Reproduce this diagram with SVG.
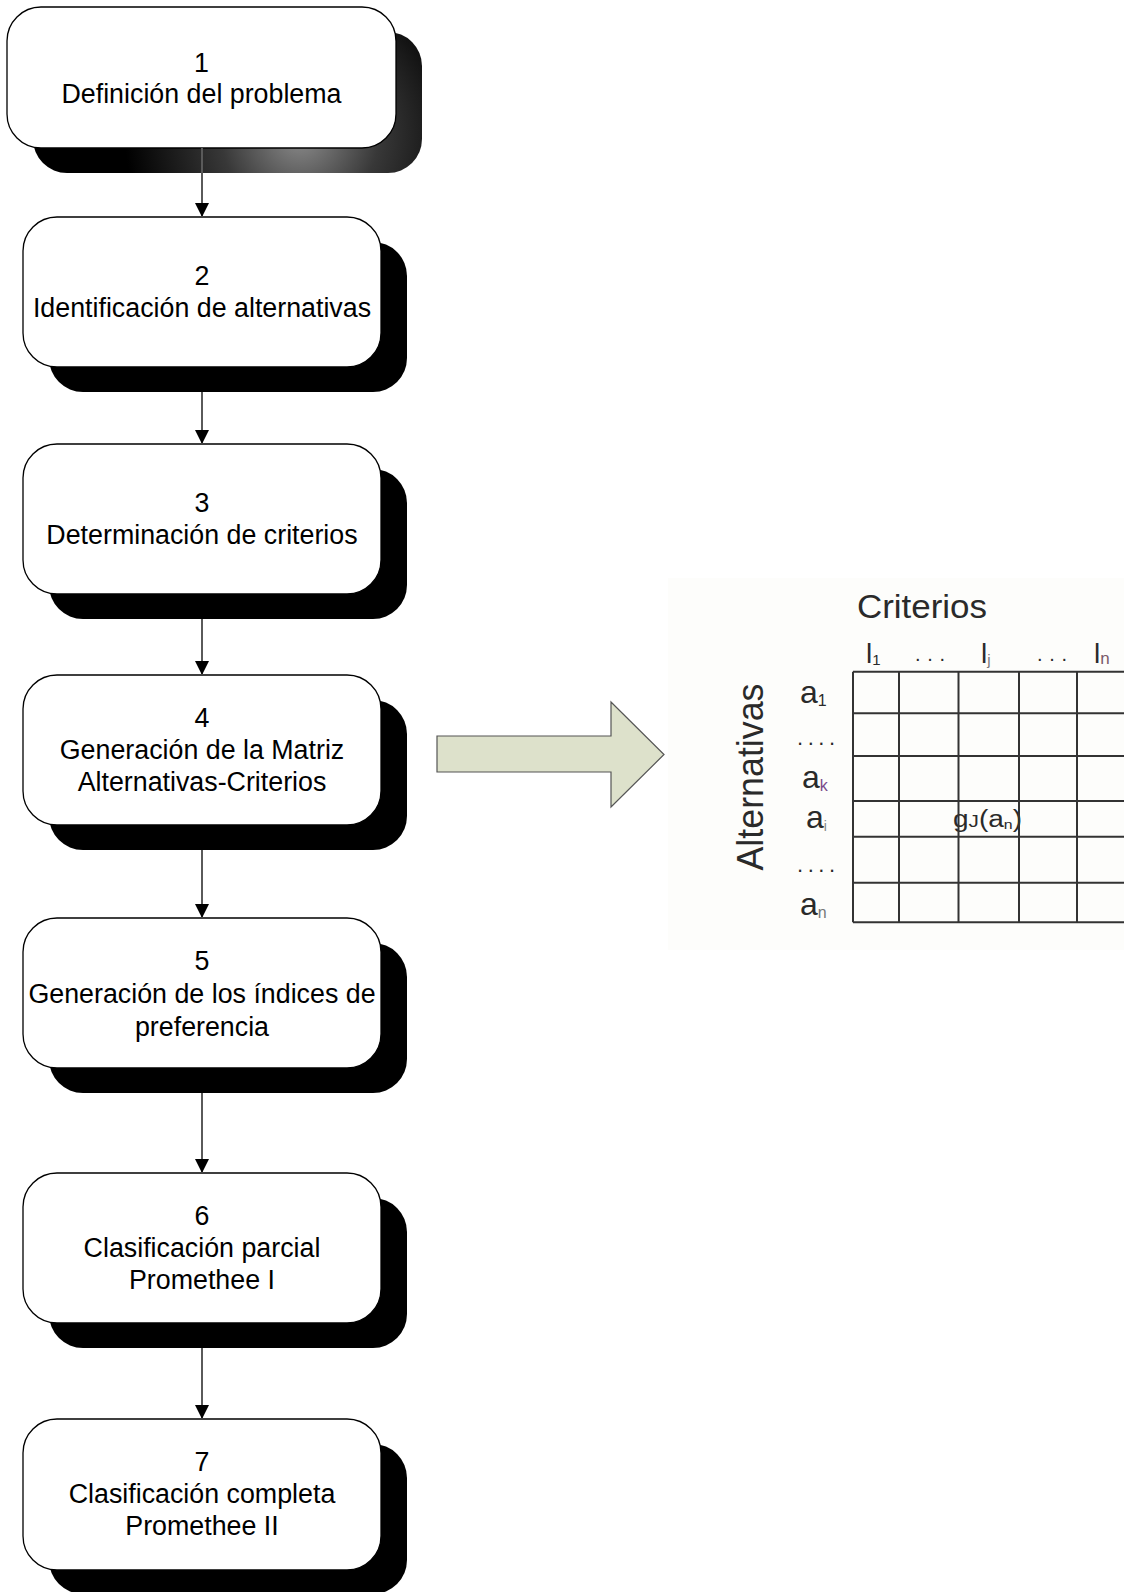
<svg xmlns="http://www.w3.org/2000/svg" width="1124" height="1592" viewBox="0 0 1124 1592">
  <style>
    .box { fill: #ffffff; stroke: #000000; stroke-width: 1.3; }
    .shadow { fill: #000000; }
    .lbl { font-family: "Liberation Sans", Arial, sans-serif; font-size: 26.8px; fill: #000000; text-anchor: middle; }
    .conn { stroke: #5a5a5a; stroke-width: 2; fill: none; }
    .grid { stroke: #333333; stroke-width: 2; fill: none; }
    .mt { font-family: "Liberation Sans", Arial, sans-serif; fill: #2a2a2a; }
  </style>
  <defs>
    <marker id="ah" markerWidth="14" markerHeight="14" refX="14" refY="7" orient="auto" markerUnits="userSpaceOnUse">
      <path d="M0,0 L14,7 L0,14 Z" fill="#000000"/>
    </marker>
    <radialGradient id="sh1" gradientUnits="userSpaceOnUse" cx="300" cy="135" r="175">
      <stop offset="0" stop-color="#8c8c8c"/>
      <stop offset="0.45" stop-color="#383838"/>
      <stop offset="1" stop-color="#000000"/>
    </radialGradient>
  </defs>

  <rect x="0" y="0" width="1124" height="1592" fill="#ffffff"/>

  <g id="node1">
    <rect x="33" y="32" width="389" height="141" rx="34" fill="url(#sh1)"/>
    <rect class="box" x="7" y="7" width="389" height="141" rx="34"/>
    <text class="lbl" x="201.5" y="72">1</text>
    <text class="lbl" x="201.5" y="103">Definición del problema</text>
  </g>

  <g id="node2">
    <rect class="shadow" x="49" y="242" width="358" height="150" rx="34"/>
    <rect class="box" x="23" y="217" width="358" height="150" rx="34"/>
    <text class="lbl" x="202" y="285">2</text>
    <text class="lbl" x="202" y="317">Identificación de alternativas</text>
  </g>

  <g id="node3">
    <rect class="shadow" x="49" y="469" width="358" height="150" rx="34"/>
    <rect class="box" x="23" y="444" width="358" height="150" rx="34"/>
    <text class="lbl" x="202" y="512">3</text>
    <text class="lbl" x="202" y="544">Determinación de criterios</text>
  </g>

  <g id="node4">
    <rect class="shadow" x="49" y="700" width="358" height="150" rx="34"/>
    <rect class="box" x="23" y="675" width="358" height="150" rx="34"/>
    <text class="lbl" x="202" y="727">4</text>
    <text class="lbl" x="202" y="759">Generación de la Matriz</text>
    <text class="lbl" x="202" y="791">Alternativas-Criterios</text>
  </g>

  <g id="node5">
    <rect class="shadow" x="49" y="943" width="358" height="150" rx="34"/>
    <rect class="box" x="23" y="918" width="358" height="150" rx="34"/>
    <text class="lbl" x="202" y="970">5</text>
    <text class="lbl" x="202" y="1003">Generación de los índices de</text>
    <text class="lbl" x="202" y="1036">preferencia</text>
  </g>

  <g id="node6">
    <rect class="shadow" x="49" y="1198" width="358" height="150" rx="34"/>
    <rect class="box" x="23" y="1173" width="358" height="150" rx="34"/>
    <text class="lbl" x="202" y="1225">6</text>
    <text class="lbl" x="202" y="1257">Clasificación parcial</text>
    <text class="lbl" x="202" y="1289">Promethee I</text>
  </g>

  <g id="node7">
    <rect class="shadow" x="49" y="1444" width="358" height="150" rx="34"/>
    <rect class="box" x="23" y="1419" width="358" height="151" rx="34"/>
    <text class="lbl" x="202" y="1471">7</text>
    <text class="lbl" x="202" y="1503">Clasificación completa</text>
    <text class="lbl" x="202" y="1535">Promethee II</text>
  </g>

  <g id="connectors">
    <line class="conn" x1="202" y1="148" x2="202" y2="217" marker-end="url(#ah)"/>
    <line class="conn" x1="202" y1="392" x2="202" y2="444" marker-end="url(#ah)"/>
    <line class="conn" x1="202" y1="619" x2="202" y2="675" marker-end="url(#ah)"/>
    <line class="conn" x1="202" y1="850" x2="202" y2="918" marker-end="url(#ah)"/>
    <line class="conn" x1="202" y1="1093" x2="202" y2="1173" marker-end="url(#ah)"/>
    <line class="conn" x1="202" y1="1348" x2="202" y2="1419" marker-end="url(#ah)"/>
    <path id="blockArrow" d="M437,736 L611,736 L611,702 L664,754.5 L611,807 L611,772 L437,772 Z" fill="#dde1cb" stroke="#555555" stroke-width="1.2"/>
  </g>

  <g id="matrix">
    <rect x="668" y="578" width="456" height="372" fill="#fdfdfb"/>
    <text class="mt" x="857" y="618" font-size="33" textLength="130" lengthAdjust="spacingAndGlyphs">Criterios</text>
    <text class="mt" x="866" y="663" font-size="28">l<tspan font-size="15" dy="2">1</tspan></text>
    <text class="mt" x="915" y="661" font-size="20" textLength="30" lengthAdjust="spacing">...</text>
    <text class="mt" x="981" y="663" font-size="28">l<tspan font-size="15" dy="2" fill="#777">j</tspan></text>
    <text class="mt" x="1037" y="661" font-size="20" textLength="30" lengthAdjust="spacing">...</text>
    <text class="mt" x="1094" y="663" font-size="28">l<tspan font-size="17" dy="1" fill="#7a5a6a">n</tspan></text>

    <text class="mt" x="763" y="777" font-size="36" text-anchor="middle" transform="rotate(-90 763 777)" textLength="187" lengthAdjust="spacingAndGlyphs">Alternativas</text>

    <text class="mt" x="800" y="703" font-size="32">a<tspan font-size="16" dy="3">1</tspan></text>
    <text class="mt" x="797" y="745" font-size="22" textLength="38" lengthAdjust="spacing">....</text>
    <text class="mt" x="802" y="788" font-size="32">a<tspan font-size="16" dy="3" fill="#7a4a8a">k</tspan></text>
    <text class="mt" x="806" y="828" font-size="32">a<tspan font-size="14" dy="3" fill="#888">i</tspan></text>
    <text class="mt" x="797" y="872" font-size="22" textLength="38" lengthAdjust="spacing">....</text>
    <text class="mt" x="800" y="915" font-size="32">a<tspan font-size="16" dy="3" fill="#777">n</tspan></text>

    <text class="mt" x="953" y="827" font-size="23" fill="#444" textLength="69" lengthAdjust="spacingAndGlyphs">g<tspan font-size="17">J</tspan>(a<tspan font-size="13" dy="2">n</tspan><tspan dy="-2">)</tspan></text>

    <line class="grid" x1="853" y1="671.7" x2="1124" y2="671.7"/>
    <line class="grid" x1="853" y1="713.3" x2="1124" y2="713.3"/>
    <line class="grid" x1="853" y1="756" x2="1124" y2="756"/>
    <line class="grid" x1="853" y1="801" x2="1124" y2="801"/>
    <line class="grid" x1="853" y1="836.7" x2="1124" y2="836.7"/>
    <line class="grid" x1="853" y1="882.7" x2="1124" y2="882.7"/>
    <line class="grid" x1="853" y1="922.3" x2="1124" y2="922.3"/>
    <line class="grid" x1="853" y1="671.7" x2="853" y2="922.3"/>
    <line class="grid" x1="899" y1="671.7" x2="899" y2="922.3"/>
    <line class="grid" x1="958.5" y1="671.7" x2="958.5" y2="922.3"/>
    <line class="grid" x1="1019" y1="671.7" x2="1019" y2="922.3"/>
    <line class="grid" x1="1077" y1="671.7" x2="1077" y2="922.3"/>
  </g>
</svg>
